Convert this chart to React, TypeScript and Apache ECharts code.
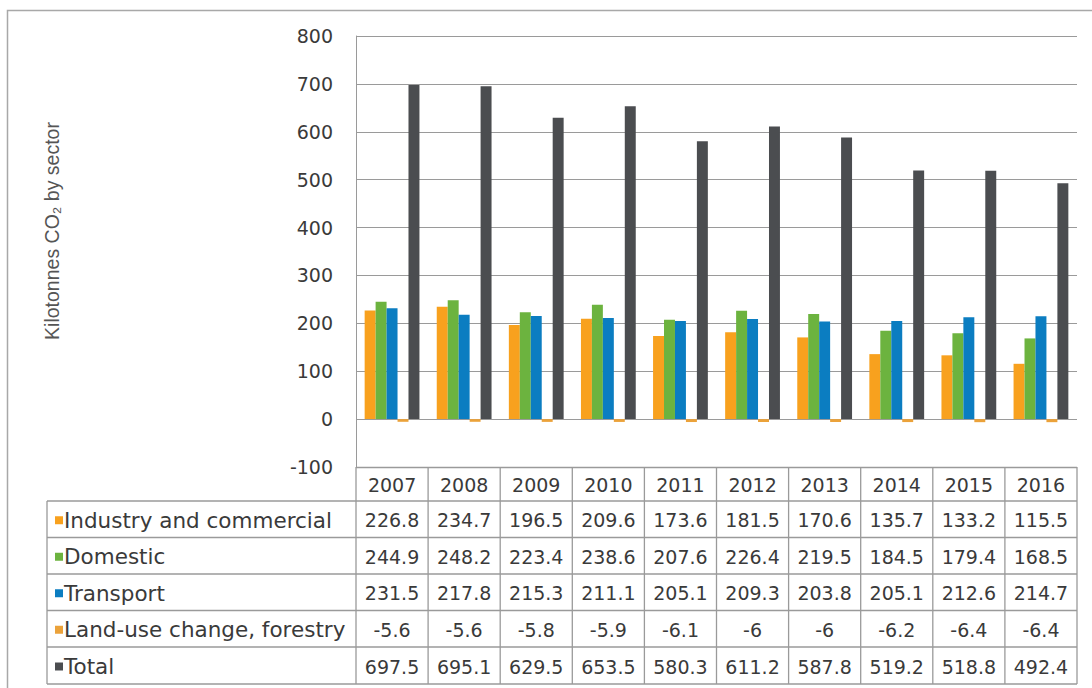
import React, { useEffect, useRef } from "react";
import * as echarts from "echarts";

const years = ["2007", "2008", "2009", "2010", "2011", "2012", "2013", "2014", "2015", "2016"];
const seriesNames = ["Industry and commercial", "Domestic", "Transport", "Land-use change, forestry", "Total"];
const industry = [226.8, 234.7, 196.5, 209.6, 173.6, 181.5, 170.6, 135.7, 133.2, 115.5];
const domestic = [244.9, 248.2, 223.4, 238.6, 207.6, 226.4, 219.5, 184.5, 179.4, 168.5];
const transport = [231.5, 217.8, 215.3, 211.1, 205.1, 209.3, 203.8, 205.1, 212.6, 214.7];
const landUse = [-5.6, -5.6, -5.8, -5.9, -6.1, -6, -6, -6.2, -6.4, -6.4];
const total = [697.5, 695.1, 629.5, 653.5, 580.3, 611.2, 587.8, 519.2, 518.8, 492.4];

const colors = ["#F8A11E", "#6CB33F", "#0B7DC1", "#EBA23A", "#4B4D50"];

const W = 1092;
const H = 688;
const GRID_L = 356;
const GRID_R = 1077;
const GRID_T = 36;
const GRID_B = 467;
const TABLE_L = 47;
const ROWS = [467, 501, 537.5, 574, 610.5, 647, 684];
const LINE = "#9A9A9A";
const TEXT = "#3A3A3A";
const NUM_FONT = "DejaVu Sans";

export default function App() {
  const ref = useRef<HTMLDivElement>(null);
  useEffect(() => {
    if (!ref.current) return;
    const chart = echarts.init(ref.current, null, { renderer: "svg" });
    const data = [industry, domestic, transport, landUse, total];
    chart.setOption({
      animation: false,
      backgroundColor: "#ffffff",
      grid: { left: GRID_L, right: W - GRID_R, top: GRID_T, bottom: H - GRID_B, containLabel: false },
      xAxis: {
        type: "category",
        data: years,
        axisLine: { show: false },
        axisTick: { show: false },
        axisLabel: { show: false },
        splitLine: { show: false },
      },
      yAxis: {
        type: "value",
        min: -100,
        max: 800,
        interval: 100,
        axisLine: { show: true, lineStyle: { color: LINE, width: 1 } },
        axisTick: { show: false },
        axisLabel: { color: TEXT, fontSize: 19, fontFamily: NUM_FONT, margin: 23 },
        splitLine: { show: true, lineStyle: { color: LINE, width: 1 } },
      },
      series: data.map((d, i) => ({
        name: seriesNames[i],
        type: "bar",
        data: d,
        barGap: "0%",
        barCategoryGap: "24%",
        itemStyle: { color: colors[i] },
        emphasis: { disabled: true },
      })),
    });

    const colW = (GRID_R - GRID_L) / years.length;
    const g: any[] = [];
    // outer frame
    g.push({ type: "rect", shape: { x: 7.5, y: 10.5, width: 1200, height: 800 }, style: { fill: "none", stroke: "#A8A8A8", lineWidth: 1.5 }, silent: true });
    // axis title
    g.push({
      type: "text",
      x: 52,
      y: 231,
      rotation: Math.PI / 2,
      style: {
        text: "Kilotonnes CO\u2082 by sector",
        fontFamily: "Liberation Sans",
        fontSize: 19.5,
        fill: "#555555",
        align: "center",
        verticalAlign: "middle",
        textAlign: "center",
        textVerticalAlign: "middle",
      },
    });
    // horizontal lines
    g.push({ type: "line", shape: { x1: GRID_L, y1: ROWS[0] + 0.5, x2: GRID_R, y2: ROWS[0] + 0.5 }, style: { stroke: LINE, lineWidth: 1.3 } });
    for (let r = 1; r < ROWS.length; r++) {
      g.push({ type: "line", shape: { x1: TABLE_L, y1: ROWS[r], x2: GRID_R, y2: ROWS[r] }, style: { stroke: LINE, lineWidth: 1.3 } });
    }
    // vertical lines
    g.push({ type: "line", shape: { x1: TABLE_L, y1: ROWS[1], x2: TABLE_L, y2: ROWS[6] }, style: { stroke: LINE, lineWidth: 1.3 } });
    for (let c = 0; c <= years.length; c++) {
      const x = GRID_L + c * colW;
      g.push({ type: "line", shape: { x1: x, y1: ROWS[0], x2: x, y2: ROWS[6] }, style: { stroke: LINE, lineWidth: 1.3 } });
    }
    // header
    years.forEach((yr, c) => {
      g.push({
        type: "text",
        x: GRID_L + (c + 0.5) * colW,
        y: (ROWS[0] + ROWS[1]) / 2 + 1,
        style: { text: yr, fontFamily: NUM_FONT, fontSize: 19, fill: TEXT, align: "center", verticalAlign: "middle", textAlign: "center", textVerticalAlign: "middle" },
      });
    });
    // rows
    data.forEach((d, r) => {
      const yMid = (ROWS[r + 1] + ROWS[r + 2]) / 2 + 1;
      g.push({ type: "rect", shape: { x: 55, y: yMid - 4, width: 8, height: 8 }, style: { fill: colors[r] } });
      g.push({
        type: "text",
        x: 64,
        y: yMid,
        style: { text: seriesNames[r], fontFamily: NUM_FONT, fontSize: 21.5, fill: TEXT, align: "left", verticalAlign: "middle", textAlign: "left", textVerticalAlign: "middle" },
      });
      d.forEach((v, c) => {
        g.push({
          type: "text",
          x: GRID_L + (c + 0.5) * colW,
          y: yMid,
          style: { text: String(v), fontFamily: NUM_FONT, fontSize: 19, fill: TEXT, align: "center", verticalAlign: "middle", textAlign: "center", textVerticalAlign: "middle" },
        });
      });
    });
    chart.setOption({ graphic: { elements: g } });
    return () => chart.dispose();
  }, []);
  return <div ref={ref} style={{ position: "fixed", left: 0, top: 0, width: W, height: H }} />;
}
